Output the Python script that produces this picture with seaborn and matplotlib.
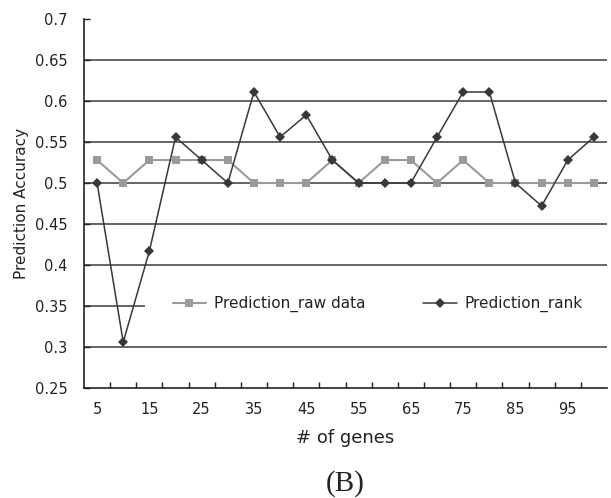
import matplotlib
matplotlib.use("Agg")
import matplotlib.pyplot as plt
import seaborn as sns
import pandas as pd
from matplotlib.ticker import FixedLocator
from matplotlib.patches import Rectangle

# number of genes used in the classifier
genes = [5, 10, 15, 20, 25, 30, 35, 40, 45, 50,
         55, 60, 65, 70, 75, 80, 85, 90, 95, 100]

# prediction accuracy with raw expression values
acc_raw = [0.528, 0.500, 0.528, 0.528, 0.528, 0.528, 0.500, 0.500, 0.500, 0.528,
           0.500, 0.528, 0.528, 0.500, 0.528, 0.500, 0.500, 0.500, 0.500, 0.500]

# prediction accuracy with rank-transformed values
acc_rank = [0.500, 0.306, 0.417, 0.556, 0.528, 0.500, 0.611, 0.556, 0.583, 0.528,
            0.500, 0.500, 0.500, 0.556, 0.611, 0.611, 0.500, 0.472, 0.528, 0.556]

series_names = ["Prediction_raw data", "Prediction_rank"]
y_ticks = [0.25, 0.3, 0.35, 0.4, 0.45, 0.5, 0.55, 0.6, 0.65, 0.7]
x_labels = [5, 15, 25, 35, 45, 55, 65, 75, 85, 95]

df = pd.DataFrame({
    "genes": genes * 2,
    "acc": acc_raw + acc_rank,
    "series": [series_names[0]] * len(genes) + [series_names[1]] * len(genes),
})

sns.set_style("white")
plt.rcParams["font.family"] = ["DejaVu Sans"]

fig = plt.figure(figsize=(6.11, 4.98), dpi=100)
ax = fig.add_axes([84 / 611, 1 - 388 / 498, 523 / 611, 369 / 498])

palette = {series_names[0]: "#9a9a9a", series_names[1]: "#383838"}
sns.lineplot(data=df, x="genes", y="acc", hue="series", style="series",
             markers={series_names[0]: "s", series_names[1]: "D"},
             dashes=False, palette=palette, ax=ax, legend=False,
             markersize=5.5, markeredgewidth=0)
for line, lw, z in zip(ax.lines, [1.5, 1.1], [3, 4]):
    line.set_linewidth(lw)
    line.set_zorder(z)
    line.set_clip_on(False)
ax.lines[1].set_markersize(5.2)

ax.set_xlim(2.5, 102.5)
ax.set_ylim(0.25, 0.7)

ax.set_yticks(y_ticks)
ax.set_yticklabels([f"{v:g}" for v in y_ticks], fontsize=10.5, color="#222222")
ax.yaxis.grid(True, color="#3a3a3a", linewidth=1.1, zorder=1)
ax.set_axisbelow(True)
for gl in (ax.get_ygridlines()[0], ax.get_ygridlines()[-1]):
    gl.set_visible(False)

ax.set_xticks(x_labels)
ax.set_xticklabels([str(v) for v in x_labels], fontsize=10.5, color="#222222")
ax.xaxis.set_minor_locator(FixedLocator([g + 2.5 for g in genes[:-1]]))
ax.tick_params(axis="x", which="major", length=0, pad=10)
ax.tick_params(axis="x", which="minor", direction="in", length=4, width=1,
               color="#222222", bottom=True)
ax.tick_params(axis="y", which="major", direction="in", length=4, width=1,
               color="#222222", left=True, pad=12)

for side in ("top", "right"):
    ax.spines[side].set_visible(False)
for side in ("left", "bottom"):
    ax.spines[side].set_color("#222222")
    ax.spines[side].set_linewidth(1.2)

ax.set_xlabel("# of genes", fontsize=13, color="#222222", labelpad=9)
ax.set_ylabel("Prediction Accuracy", fontsize=11, color="#222222", labelpad=4)

# white band behind the legend, hiding that stretch of the grid
ax.add_patch(Rectangle((0.117, 0.2276 - 0.027), 0.883, 0.054,
                       transform=ax.transAxes, facecolor="white",
                       edgecolor="none", zorder=2, clip_on=False))

handles = [
    plt.Line2D([], [], color=palette[series_names[0]], marker="s",
               markersize=5.5, markeredgewidth=0, linewidth=1.5),
    plt.Line2D([], [], color=palette[series_names[1]], marker="D",
               markersize=5.2, markeredgewidth=0, linewidth=1.1),
]
leg = ax.legend(handles, series_names, ncol=2, loc="center left",
                bbox_to_anchor=(0.1606, 0.2276), frameon=False,
                fontsize=11, handlelength=2.2, handletextpad=0.5,
                columnspacing=3.8, borderpad=0.3, borderaxespad=0)
leg.set_zorder(5)
for t in leg.get_texts():
    t.set_color("#222222")

fig.text(345 / 611, 1 - 484 / 498, "(B)", ha="center", va="center",
         fontsize=21, family="Liberation Serif", color="#222222")

fig.savefig("out.png", dpi=100)
